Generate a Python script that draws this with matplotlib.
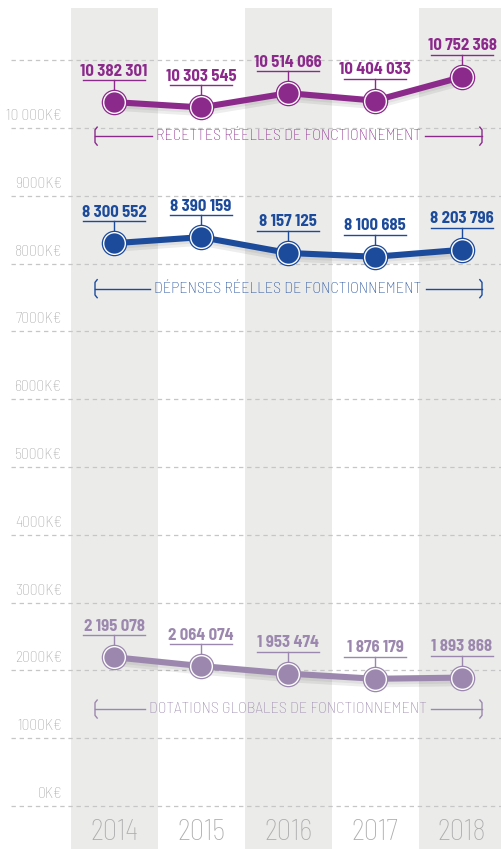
import matplotlib
matplotlib.use("Agg")
from matplotlib import pyplot as plt
from matplotlib import font_manager
import matplotlib.patheffects as pe

years = ["2014", "2015", "2016", "2017", "2018"]
recettes = [10382301, 10303545, 10514066, 10404033, 10752368]
depenses = [8300552, 8390159, 8157125, 8100685, 8203796]
dotations = [2195078, 2064074, 1953474, 1876179, 1893868]
series_names = ["RECETTES RÉELLES DE FONCTIONNEMENT",
                "DÉPENSES RÉELLES DE FONCTIONNEMENT",
                "DOTATIONS GLOBALES DE FONCTIONNEMENT"]
grid_values = list(range(0, 11001, 1000))
tick_values = list(range(0, 10001, 1000))

# pick a narrow font if one is there
_names = {f.name for f in font_manager.fontManager.ttflist}
FONT = next((n for n in ["Barlow Semi Condensed", "Titillium Web",
                         "Encode Sans Condensed"]
             if n in _names), "DejaVu Sans")
FAM = [FONT, "DejaVu Sans"]
THIN = "\u2009"

colors = ["#8c2a8c", "#1d4b9b", "#9c88ae"]
label_y = [9880, 7630, 1430]   # K€, where each series name sits

PX = 0.0678  # pixels per K€

fig = plt.figure(figsize=(5.02, 8.49), dpi=100)
ax = fig.add_axes([0, 0, 1, 1])
ax.set_xlim(-114 / 87, (502 - 114) / 87)
ax.set_ylim(-(849 - 806) / PX, 806 / PX)
ax.axis("off")

# grey stripes behind every other year
for i in range(0, len(years), 2):
    ax.axvspan(i - 0.5, i + 0.5, ymin=0, ymax=(849 - 8) / 849,
               color="#ebebea", lw=0, zorder=0)

x_left = (11 - 114) / 87
for v in grid_values:
    ax.plot([x_left, 5], [v, v], color="#c6c6c6", lw=0.9,
            dashes=(3.5, 3), zorder=1)

for v in tick_values:
    lab = "10" + THIN + "000K€" if v >= 10000 else "%dK€" % v
    ax.text((62 - 114) / 87, v + 12 / PX, lab, ha="right", va="center",
            fontsize=11.2, color="#a9a9a9", family=FAM, fontweight="light")

for i, y in enumerate(years):
    ax.text(i, -27 / PX, y, ha="center", va="center", fontsize=20.5,
            color="#adadad", family=FAM, fontweight="light")

xs = list(range(len(years)))
for vals, c in zip([recettes, depenses, dotations], colors):
    k = [v / 1000 for v in vals]
    ax.plot(xs, k, color=c, lw=4.4, solid_capstyle="round", zorder=3,
            path_effects=[pe.SimpleLineShadow(offset=(0, -4), shadow_color="k",
                                              alpha=0.07),
                          pe.SimpleLineShadow(offset=(0, -2), shadow_color="k",
                                              alpha=0.06),
                          pe.Normal()])
    ax.plot(xs, k, "o", ms=17.5, mfc="white", mec=c, mew=0.9, zorder=4)
    ax.plot(xs, k, "o", ms=14.6, mfc=c, mec=c, mew=0, zorder=5)
    for x, v, kv in zip(xs, vals, k):
        s = "{:,}".format(v).replace(",", THIN)
        ax.text(x, kv + 31 / PX, s, ha="center", va="center", fontsize=12,
                color=c, family=FAM, fontweight="bold", zorder=6)
        ax.plot([x - 0.36, x + 0.36], [kv + 22 / PX] * 2, color=c, lw=1, zorder=6)
        ax.plot([x, x], [kv + 13 / PX, kv + 22 / PX], color=c, lw=1, zorder=6)

# series names with bracket lines
fig.canvas.draw()
r = fig.canvas.get_renderer()
inv = ax.transData.inverted()
bl, br = (95 - 114) / 87, (482 - 114) / 87
h = 9 / PX
for name, c, ly in zip(series_names, colors, label_y):
    t = ax.text(2, ly, name, ha="center", va="center", fontsize=11.6,
                color=c, family=FAM, fontweight="light", zorder=6)
    bb = t.get_window_extent(r)
    x0 = inv.transform((bb.x0 - 4, 0))[0]
    x1 = inv.transform((bb.x1 + 4, 0))[0]
    ax.plot([bl, x0], [ly, ly], color=c, lw=1, zorder=6)
    ax.plot([x1, br], [ly, ly], color=c, lw=1, zorder=6)
    ax.plot([bl + 0.025, bl, bl, bl + 0.025], [ly + h, ly + h - 40, ly - h + 40, ly - h],
            color=c, lw=1, zorder=6)
    ax.plot([br - 0.025, br, br, br - 0.025], [ly + h, ly + h - 40, ly - h + 40, ly - h],
            color=c, lw=1, zorder=6)

fig.savefig("out.png", dpi=100)
